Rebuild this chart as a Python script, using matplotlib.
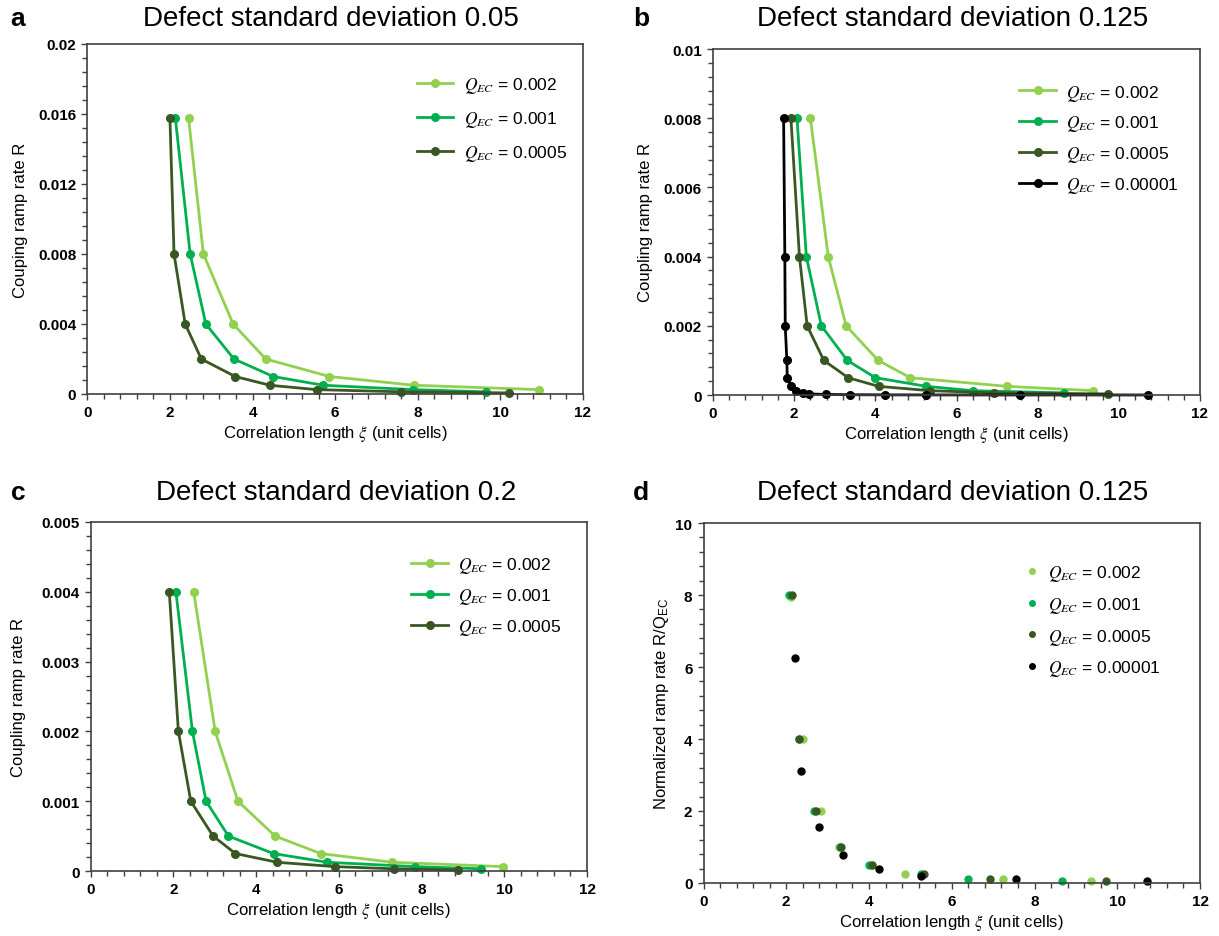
import matplotlib
matplotlib.use("Agg")
import matplotlib.pyplot as plt
from matplotlib.ticker import MultipleLocator, FuncFormatter

plt.rcParams['font.family'] = ['Liberation Sans', 'DejaVu Sans']
plt.rcParams['mathtext.fontset'] = 'custom'
plt.rcParams['mathtext.rm'] = 'Liberation Sans'
plt.rcParams['mathtext.it'] = 'STIXGeneral:italic'
plt.rcParams['mathtext.bf'] = 'Liberation Sans:bold'

# ---------------- data ----------------
legend_labels = ["0.002", "0.001", "0.0005", "0.00001"]
colors = ["#92D050", "#00B050", "#385723", "#000000"]

# panel a : defect std 0.05
a_x_002 = [2.45, 2.81, 3.53, 4.32, 5.86, 7.91, 10.93]
a_y_002 = [0.0158, 0.008, 0.004, 0.002, 0.001, 0.0005, 0.00025]
a_x_001 = [2.13, 2.49, 2.87, 3.55, 4.50, 5.71, 7.88, 9.64]
a_y_001 = [0.0158, 0.008, 0.004, 0.002, 0.001, 0.0005, 0.00025, 0.000125]
a_x_0005 = [2.00, 2.10, 2.37, 2.76, 3.58, 4.42, 5.55, 7.59, 10.21]
a_y_0005 = [0.0158, 0.008, 0.004, 0.002, 0.001, 0.0005, 0.00025, 0.000125, 0.0000625]

# panel b : defect std 0.125
b_x_002 = [2.40, 2.84, 3.28, 4.07, 4.86, 7.25, 9.36]
b_y_002 = [0.008, 0.004, 0.002, 0.001, 0.0005, 0.00025, 0.000125]
b_x_001 = [2.07, 2.30, 2.67, 3.31, 4.00, 5.26, 6.40, 8.66]
b_y_001 = [0.008, 0.004, 0.002, 0.001, 0.0005, 0.00025, 0.000125, 0.0000625]
b_x_0005 = [1.92, 2.13, 2.32, 2.73, 3.33, 4.08, 5.34, 6.92, 9.73]
b_y_0005 = [0.008, 0.004, 0.002, 0.001, 0.0005, 0.00025, 0.000125, 0.0000625, 0.00003125]
b_x_00001 = [1.74, 1.77, 1.78, 1.82, 1.83, 1.93, 2.04, 2.22, 2.36, 2.79, 3.38, 4.24, 5.26, 7.56, 10.71]
b_y_00001 = [0.008, 0.004, 0.002, 0.001, 0.0005, 0.00025, 0.000125, 0.0000625, 0.00003125,
             0.0000156, 0.0000078, 0.0000039, 0.00000195, 0.00000098, 0.00000049]

# panel c : defect std 0.2
c_x_002 = [2.49, 3.01, 3.56, 4.46, 5.56, 7.29, 9.98]
c_y_002 = [0.004, 0.002, 0.001, 0.0005, 0.00025, 0.000125, 0.0000625]
c_x_001 = [2.06, 2.46, 2.79, 3.33, 4.42, 5.72, 7.84, 9.44]
c_y_001 = [0.004, 0.002, 0.001, 0.0005, 0.00025, 0.000125, 0.0000625, 0.00003125]
c_x_0005 = [1.90, 2.12, 2.42, 2.96, 3.50, 4.51, 5.91, 7.34, 8.89]
c_y_0005 = [0.004, 0.002, 0.001, 0.0005, 0.00025, 0.000125, 0.0000625, 0.00003125, 0.0000156]

# panel d : normalized R/Q_EC, defect std 0.125
d_x_002 = [2.11, 2.40, 2.84, 3.28, 4.07, 4.86, 7.25, 9.36]
d_y_002 = [7.95, 4, 2, 1, 0.5, 0.25, 0.125, 0.0625]
d_x_001 = [2.07, 2.30, 2.67, 3.31, 4.00, 5.26, 6.40, 8.66]
d_y_001 = [8, 4, 2, 1, 0.5, 0.25, 0.125, 0.0625]
d_x_0005 = [2.13, 2.32, 2.73, 3.33, 4.08, 5.34, 6.92, 9.73]
d_y_0005 = [8, 4, 2, 1, 0.5, 0.25, 0.125, 0.0625]
d_x_00001 = [2.22, 2.36, 2.79, 3.38, 4.24, 5.26, 7.56, 10.71]
d_y_00001 = [6.25, 3.125, 1.5625, 0.78, 0.39, 0.195, 0.098, 0.049]

titles = ["Defect standard deviation 0.05", "Defect standard deviation 0.125",
          "Defect standard deviation 0.2", "Defect standard deviation 0.125"]
letters = ["a", "b", "c", "d"]

# ---------------- figure ----------------
fig = plt.figure(figsize=(12.19, 9.37), dpi=100)
W, H = 1219.0, 937.0

def axes_px(x0, x1, ytop, ybot):
    return fig.add_axes([x0 / W, 1 - ybot / H, (x1 - x0) / W, (ybot - ytop) / H])

ax_a = axes_px(87.3, 583, 45, 395)
ax_b = axes_px(713, 1200, 50, 396)
ax_c = axes_px(90.7, 587, 523, 872)
ax_d = axes_px(703.5, 1200, 524, 884)

spine_col = "#404040"

def fmt(v, pos):
    if abs(v) < 1e-12:
        return "0"
    return ("%.4f" % v).rstrip("0").rstrip(".")

def style(ax, ymax, ymajor, ylabel, ylabel_x):
    ax.set_xlim(0, 12)
    ax.set_ylim(0, ymax)
    ax.xaxis.set_major_locator(MultipleLocator(2))
    ax.xaxis.set_minor_locator(MultipleLocator(0.4))
    ax.yaxis.set_major_locator(MultipleLocator(ymajor))
    ax.yaxis.set_minor_locator(MultipleLocator(ymajor / 5))
    ax.yaxis.set_major_formatter(FuncFormatter(fmt))
    ax.tick_params(which="both", direction="out", color=spine_col, width=1.0)
    ax.tick_params(which="major", length=4, labelsize=11, pad=4)
    ax.tick_params(which="minor", length=3.5)
    for lab in ax.get_xticklabels() + ax.get_yticklabels():
        lab.set_fontweight("bold")
    for sp in ax.spines.values():
        sp.set_color(spine_col)
        sp.set_linewidth(1.2)
    ax.set_xlabel(r"Correlation length $\xi$ (unit cells)", fontsize=12, labelpad=3)
    ax.set_ylabel(ylabel, fontsize=12)
    ax.yaxis.set_label_coords(ylabel_x, 0.5)

def lines(ax, xs, ys, cols, labs):
    for x, y, c, l in zip(xs, ys, cols, labs):
        ax.plot(x, y, "-o", color=c, lw=2.0, ms=5.5, label=r"$Q_{EC}$ = " + l, clip_on=False)

lines(ax_a, [a_x_002, a_x_001, a_x_0005], [a_y_002, a_y_001, a_y_0005], colors[:3], legend_labels[:3])
lines(ax_b, [b_x_002, b_x_001, b_x_0005, b_x_00001], [b_y_002, b_y_001, b_y_0005, b_y_00001], colors, legend_labels)
lines(ax_c, [c_x_002, c_x_001, c_x_0005], [c_y_002, c_y_001, c_y_0005], colors[:3], legend_labels[:3])
for x, y, c, l in zip([d_x_002, d_x_001, d_x_0005, d_x_00001], [d_y_002, d_y_001, d_y_0005, d_y_00001],
                      colors, legend_labels):
    ax_d.plot(x, y, "o", color=c, ms=5, label=r"$Q_{EC}$ = " + l, clip_on=False)

style(ax_a, 0.02, 0.004, "Couping ramp rate R", -0.120)
style(ax_b, 0.01, 0.002, "Coupling ramp rate R", -0.123)
style(ax_c, 0.005, 0.001, "Coupling ramp rate R", -0.130)
style(ax_d, 10, 2, r"Normalized ramp rate R/Q$_{\mathrm{EC}}$", -0.066)

leg_kw = dict(frameon=False, fontsize=12.5, handlelength=2.1, handletextpad=0.6,
              borderpad=0, borderaxespad=0)
ax_a.legend(loc="upper left", bbox_to_anchor=(0.665, 0.912), labelspacing=0.8, **leg_kw)
ax_b.legend(loc="upper left", bbox_to_anchor=(0.629, 0.903), labelspacing=0.62, **leg_kw)
ax_c.legend(loc="upper left", bbox_to_anchor=(0.646, 0.906), labelspacing=0.64, **leg_kw)
leg_kw_d = dict(leg_kw)
leg_kw_d.update(handlelength=0.6, handletextpad=0.6)
ax_d.legend(loc="upper left", bbox_to_anchor=(0.651, 0.889), labelspacing=0.68,
            markerscale=0.8, **leg_kw_d)

title_pos = [(331, 19), (953, 19), (336, 493), (953, 493)]
letter_pos = [(18, 19), (641, 19), (18, 493), (641, 493)]
for t, (tx, ty), letter, (lx, ly) in zip(titles, title_pos, letters, letter_pos):
    fig.text(tx / W, 1 - ty / H, t, fontsize=20, ha="center", va="center")
    fig.text(lx / W, 1 - ly / H, letter, fontsize=19, fontweight="bold", ha="center", va="center")

fig.savefig("out.png", dpi=100)
